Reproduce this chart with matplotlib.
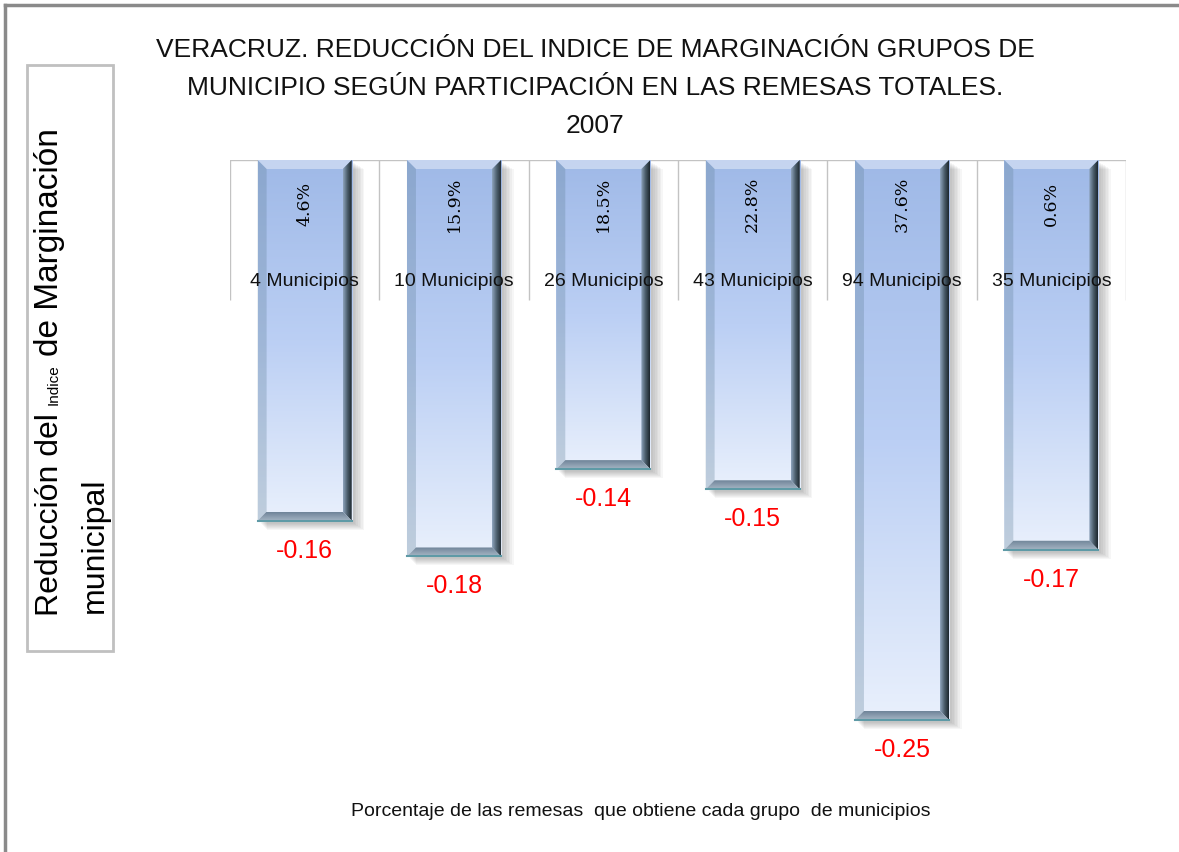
import numpy as np
import matplotlib
matplotlib.use('Agg')
import matplotlib.pyplot as plt
from matplotlib.colors import LinearSegmentedColormap
from matplotlib.patches import Polygon, Rectangle
from matplotlib.lines import Line2D

# datos
grupos = ['4 Municipios', '10 Municipios', '26 Municipios', '43 Municipios', '94 Municipios', '35 Municipios']
participacion = [4.6, 15.9, 18.5, 22.8, 37.6, 0.6]
reduccion = [-0.161, -0.177, -0.138, -0.147, -0.250, -0.174]

titulo = ['VERACRUZ. REDUCCIÓN DEL INDICE DE MARGINACIÓN GRUPOS DE',
          'MUNICIPIO SEGÚN PARTICIPACIÓN EN LAS REMESAS TOTALES.',
          '2007']
eje_x = 'Porcentaje de las remesas  que obtiene cada grupo  de municipios'

SANS = 'Liberation Sans'
W, H = 1179, 852

fig = plt.figure(figsize=(W / 100, H / 100), dpi=100)
ax = fig.add_axes([230 / W, 1 - 780 / H, 896 / W, 620 / H])
ymin = -620 / 2240
ux = 6 / 896.0      # unidades de datos por pixel (x)
uy = -ymin / 620.0  # unidades de datos por pixel (y)

x = np.arange(len(grupos))
ax.vlines(np.append(x - 0.5, len(grupos) - 0.5), -0.0625, 0, color='#c3c3c3', lw=1, zorder=1)
ax.axhline(0, color='#c3c3c3', lw=1, zorder=1)

body = LinearSegmentedColormap.from_list('body', ['#9fb9e7', '#bbcff4', '#e9f0fc'])
right = LinearSegmentedColormap.from_list('right', ['#8ea4bd', '#4b5d6b', '#1c262d'])
bottom = LinearSegmentedColormap.from_list('bottom', ['#6f8498', '#a6b5c4'])

bars = ax.bar(x, reduccion, width=0.63, color='none', zorder=3)
bx, by = 9 * ux, 9 * uy
for rect in bars:
    x0 = rect.get_x()
    x1 = x0 + rect.get_width()
    ylo = min(rect.get_y(), rect.get_y() + rect.get_height())
    yhi = max(rect.get_y(), rect.get_y() + rect.get_height())

    # sombra
    for k in range(7):
        ax.add_patch(Rectangle((x0 + (3 + k) * ux, ylo - (3 + k) * uy),
                               x1 - x0 + 2 * k * ux * 0.3, yhi - ylo,
                               color='#303030', alpha=0.045, lw=0, zorder=2))

    ax.imshow(np.linspace(0, 1, 256).reshape(-1, 1), cmap=body, aspect='auto',
              extent=(x0, x1, ylo, yhi), origin='upper', zorder=3)

    ax.add_patch(Polygon([(x0, yhi), (x1, yhi), (x1 - bx, yhi - by), (x0 + bx, yhi - by)],
                         closed=True, color='white', alpha=0.4, lw=0, zorder=4))
    ax.add_patch(Polygon([(x0, yhi), (x0 + bx, yhi - by), (x0 + bx, ylo + by), (x0, ylo)],
                         closed=True, color='#5f7f97', alpha=0.3, lw=0, zorder=4))

    rp = Polygon([(x1, yhi), (x1 - bx, yhi - by), (x1 - bx, ylo + by), (x1, ylo)],
                 closed=True, facecolor='none', lw=0)
    ax.add_patch(rp)
    im = ax.imshow(np.linspace(0, 1, 64).reshape(1, -1), cmap=right, aspect='auto',
                   extent=(x1 - bx, x1, ylo, yhi), zorder=4)
    im.set_clip_path(rp)

    bp = Polygon([(x0, ylo), (x0 + bx, ylo + by), (x1 - bx, ylo + by), (x1, ylo)],
                 closed=True, facecolor='none', lw=0)
    ax.add_patch(bp)
    im = ax.imshow(np.linspace(0, 1, 64).reshape(-1, 1), cmap=bottom, aspect='auto',
                   extent=(x0, x1, ylo, ylo + by), origin='upper', zorder=4)
    im.set_clip_path(bp)
    ax.plot([x0, x1], [ylo, ylo], color='#5e9aa6', lw=1.5, zorder=5)

for i, (p, v) in enumerate(zip(participacion, reduccion)):
    ax.text(i, -44 * uy, f'{p}%', rotation=90, ha='center', va='center',
            family='DejaVu Serif', fontsize=12.5, zorder=6)
    ax.text(i, -122 * uy, grupos[i], ha='center', va='center',
            family=SANS, fontsize=14, color='#111111', zorder=6)
    ax.annotate(f'{v:.2f}', xy=(i, v), xytext=(0, -30), textcoords='offset pixels',
                ha='center', va='center', color='#ff0000', fontsize=18,
                family=SANS, zorder=6)

ax.set_xlim(-0.5, len(grupos) - 0.5)
ax.set_ylim(ymin, 0)
ax.axis('off')

for j, linea in enumerate(titulo):
    fig.text(595 / W, 1 - (50 + 38 * j) / H, linea, ha='center', va='center',
             family=SANS, fontsize=19, color='#111111')

fig.text(641 / W, 1 - 812 / H, eje_x, ha='center', va='center',
         family=SANS, fontsize=14, color='#111111')

# marco
fig.add_artist(Line2D([5 / W, 5 / W], [0, 1 - 5 / H], color='#8a8a8a', lw=2.5))
fig.add_artist(Line2D([5 / W, 1], [1 - 5 / H, 1 - 5 / H], color='#8a8a8a', lw=2.5))

# titulo del eje y en recuadro
fig.add_artist(Rectangle((27 / W, 1 - 651 / H), 86 / W, 586 / H, fill=False,
                         ec='#c0c0c0', lw=2, transform=fig.transFigure))
renderer = fig.canvas.get_renderer()
piezas = [('Reducción del', 23), ('Indice', 11), ('de Marginación', 24)]
ypix = 616
for texto, size in piezas:
    t = fig.text(58 / W, 1 - ypix / H, texto, rotation=90, rotation_mode='anchor',
                 ha='left', va='baseline', fontsize=size, family=SANS)
    ypix -= t.get_window_extent(renderer).height + 8
fig.text(103 / W, 1 - 613 / H, 'municipal', rotation=90, rotation_mode='anchor',
         ha='left', va='baseline', fontsize=23, family=SANS)

fig.savefig('out.png', dpi=100)
